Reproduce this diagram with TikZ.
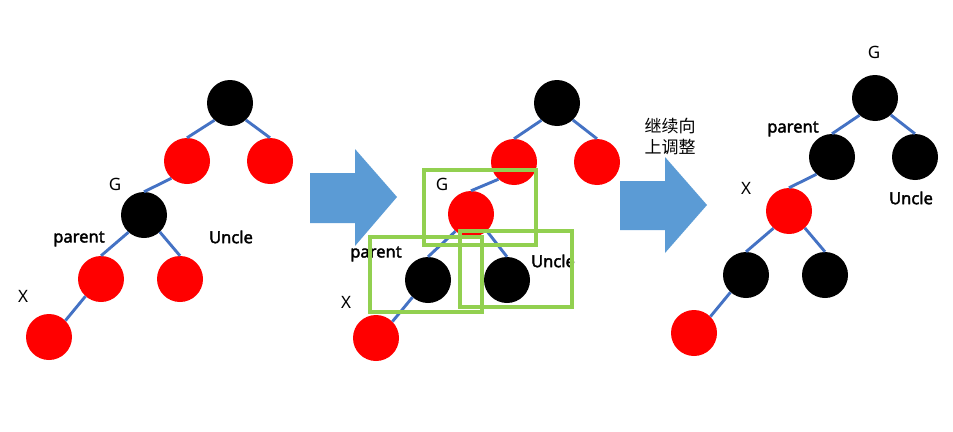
\documentclass[tikz,border=0pt]{standalone}
\usepackage{fontspec}
\setmainfont{Noto Sans CJK SC}
\newfontfamily\labfont{Noto Sans}
\newfontfamily\semifont[FakeBold=2.2]{Noto Sans}
\begin{document}
\begin{tikzpicture}[x=1pt,y=-1pt]
\definecolor{gboxc}{HTML}{92D050}
\definecolor{arrowc}{HTML}{5B9BD5}
\definecolor{edgec}{HTML}{4472C4}
\tikzset{
  rb/.style={circle,fill=red,minimum size=46pt,inner sep=0pt},
  bb/.style={circle,fill=black,minimum size=46pt,inner sep=0pt},
  edge/.style={draw=edgec,line width=2.9pt},
  lbl/.style={font=\labfont\fontsize{17}{19}\selectfont,inner sep=0pt},
  blbl/.style={font=\semifont\fontsize{16.5}{19}\selectfont,inner sep=0pt},
  gbox/.style={draw=gboxc,line width=3.8pt},
  bigarrow/.style={fill=arrowc}}
\useasboundingbox (0,0) rectangle (953,431);
% ---------- tree 1 ----------
\node[bb] (a1) at (230,103) {};
\node[rb] (a2) at (187,161) {};
\node[rb] (a3) at (270,161) {};
\node[bb] (a4) at (144,215) {};
\node[rb] (a5) at (101,279) {};
\node[rb] (a6) at (180,279) {};
\node[rb] (a7) at (49,337) {};
\draw[edge] (a1.-132) -- (a2.north);
\draw[edge] (a1.-47) -- (a3.north);
\draw[edge] (a2.-132) -- (a4.north);
\draw[edge] (a4.-132) -- (a5.north);
\draw[edge] (a4.-47) -- (a6.north);
\draw[edge] (a5.-132) -- (a7.45);
\node[lbl] (a4l) at (115,184) {G};
\node[blbl] (a5l) at (79,239) {parent};
\node[blbl] (a6l) at (231,237) {Uncle};
\node[lbl] (a7l) at (23,296) {X};
% ---------- arrow 1 ----------
\fill[bigarrow] (310,173) -- (355,173) -- (355,149) -- (397,197) -- (355,246) -- (355,223) -- (310,223) -- cycle;
% ---------- tree 2 ----------
\node[bb] (b1) at (557,103) {};
\node[rb] (b2) at (514,162) {};
\node[rb] (b3) at (597,162) {};
\node[rb] (b4) at (471,214) {};
\node[bb] (b5) at (428,280) {};
\node[bb] (b6) at (507,280) {};
\node[rb] (b7) at (376,338) {};
\draw[edge] (b1.-132) -- (b2.north);
\draw[edge] (b1.-47) -- (b3.north);
\draw[edge] (b2.-132) -- (b4.north);
\draw[edge] (b4.-132) -- (b5.north);
\draw[edge] (b4.-47) -- (b6.north);
\draw[edge] (b5.-132) -- (b7.45);
\node[lbl] (b4l) at (442,184) {G};
\node[blbl] (b5l) at (376,254) {parent};
\node[blbl] (b6l) at (553,261) {Uncle};
\node[lbl] (b7l) at (346,302) {X};
\draw[gbox] (424,170) rectangle (536,245);
\draw[gbox] (370,237) rectangle (482,312);
\draw[gbox] (460,231) rectangle (572,307);
% ---------- arrow 2 ----------
\fill[bigarrow] (620,181) -- (665,181) -- (665,157) -- (707,205) -- (665,253) -- (665,230) -- (620,230) -- cycle;
\node[font=\fontsize{17}{21}\selectfont,align=center,inner sep=0pt] (txt) at (670,137) {继续向\\上调整};
% ---------- tree 3 ----------
\node[bb] (c1) at (875,98) {};
\node[bb] (c2) at (832,157) {};
\node[bb] (c3) at (915,157) {};
\node[rb] (c4) at (789,211) {};
\node[bb] (c5) at (746,275) {};
\node[bb] (c6) at (825,275) {};
\node[rb] (c7) at (694,333) {};
\draw[edge] (c1.-132) -- (c2.north);
\draw[edge] (c1.-47) -- (c3.north);
\draw[edge] (c2.-132) -- (c4.north);
\draw[edge] (c4.-132) -- (c5.north);
\draw[edge] (c4.-47) -- (c6.north);
\draw[edge] (c5.-132) -- (c7.45);
\node[lbl] (c1l) at (874,52) {G};
\node[blbl] (c2l) at (793,129) {parent};
\node[lbl] (c4l) at (746,188) {X};
\node[blbl] (c3l) at (911,198) {Uncle};
\end{tikzpicture}
\end{document}
